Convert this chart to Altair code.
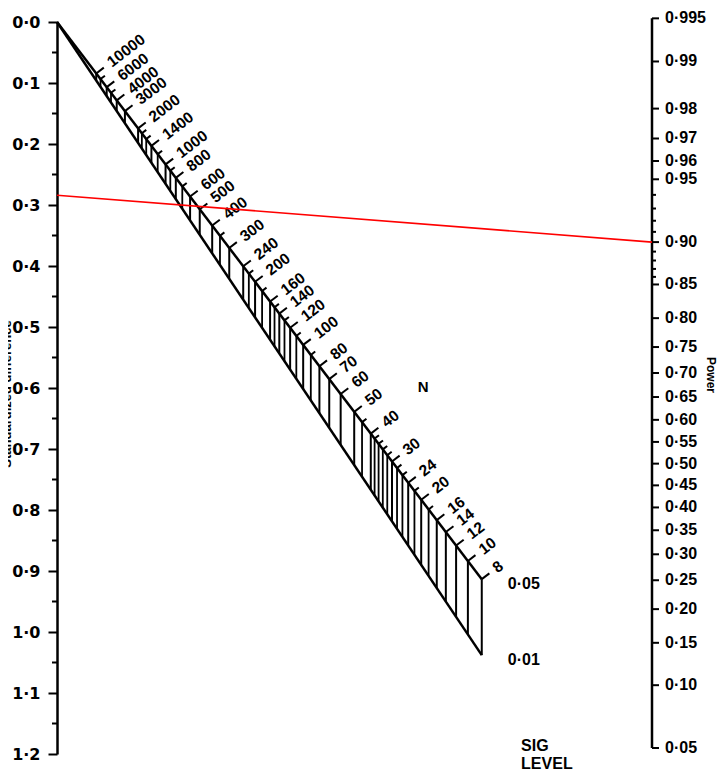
import altair as alt
import pandas as pd

# ---------------- data ----------------
d_major = [0.0, 0.1, 0.2, 0.3, 0.4, 0.5, 0.6, 0.7, 0.8, 0.9, 1.0, 1.1, 1.2]
d_minor = [0.05, 0.15, 0.25, 0.35, 0.45, 0.55, 0.65, 0.75, 0.85, 0.95, 1.05, 1.15]

power_major = [0.995, 0.99, 0.98, 0.97, 0.96, 0.95, 0.90, 0.85, 0.80, 0.75, 0.70,
               0.65, 0.60, 0.55, 0.50, 0.45, 0.40, 0.35, 0.30, 0.25, 0.20, 0.15,
               0.10, 0.05]
power_labels = ["0·995", "0·99", "0·98", "0·97", "0·96", "0·95", "0·90", "0·85",
                "0·80", "0·75", "0·70", "0·65", "0·60", "0·55", "0·50", "0·45",
                "0·40", "0·35", "0·30", "0·25", "0·20", "0·15", "0·10", "0·05"]
power_minor = [0.94, 0.93, 0.92, 0.91, 0.89, 0.88, 0.87, 0.86]

n_labeled = [10000, 6000, 4000, 3000, 2000, 1400, 1000, 800, 600, 500, 400, 300,
             240, 200, 160, 140, 120, 100, 80, 70, 60, 50, 40, 30, 24, 20, 16,
             14, 12, 10, 8]
n_minor = [8000, 5000, 1800, 1600, 1200, 900, 700, 350, 220, 180, 150, 130, 110,
           90, 45, 38, 36, 34, 32, 28, 26, 22, 18]

sig_levels = [0.05, 0.01]
sig_labels = ["0·05", "0·01"]

example_d = [0.284]
example_power = [0.90]

# ---------------- nomogram construction (power axis scale) ----------------
POW_MID = 0.724     # position of power 0.5, in standardized-difference units
POW_UNIT = 0.2834   # length of one normal deviate on the power axis

T_EXPR = f"1/(1 + {POW_UNIT}*sqrt(datum.n)/2)"
def y_alpha(a):
    return f"datum.t*({POW_MID} + {POW_UNIT}*quantileNormal(1 - {a}/2))"
YP_EXPR = f"{POW_MID} - {POW_UNIT}*quantileNormal(datum.p)"

W, H = 595, 732
xs = alt.Scale(domain=[0, 1], nice=False, zero=False)
ys = alt.Scale(domain=[0, 1.2], reverse=True, nice=False, zero=False)
yaxis = alt.Axis(values=d_major, title=None, grid=False,
                 labelExpr="replace(format(datum.value, '.1f'), '.', '·')",
                 tickSize=9, tickWidth=2, tickColor="black",
                 domainWidth=2.5, domainColor="black",
                 labelFont="DejaVu Sans", labelFontWeight="bold", labelFontSize=16,
                 labelColor="black", labelPadding=8, labelFlush=False,
                 labelOverlap=False)

def X(f):
    return alt.X(f, type="quantitative", scale=xs, axis=None)

def Y(f):
    return alt.Y(f, type="quantitative", scale=ys, axis=yaxis)

BLK = "black"

# left axis minor ticks
df_dmin = pd.DataFrame({"d": d_minor})
left_minor = alt.Chart(df_dmin).transform_calculate(x0="0").mark_rule(
    x2Offset=-5, strokeWidth=2, color=BLK
).encode(x=X("x0"), x2="x0", y=Y("d"), y2="d")

# right (power) axis
df_pw = pd.DataFrame({"p": power_major, "label": power_labels})
base_pw = alt.Chart(df_pw).transform_calculate(yp=YP_EXPR, xr="1")
pw_ticks = base_pw.mark_rule(x2Offset=7, strokeWidth=2, color=BLK).encode(
    x=X("xr"), x2="xr", y=Y("yp"), y2="yp")
pw_labels = base_pw.mark_text(align="left", baseline="middle", dx=13,
                              font="Liberation Sans", fontWeight="bold",
                              fontSize=16, color=BLK).encode(
    x=X("xr"), y=Y("yp"), text="label:N")
df_pwmin = pd.DataFrame({"p": power_minor})
pw_minor = alt.Chart(df_pwmin).transform_calculate(yp=YP_EXPR, xr="1").mark_rule(
    x2Offset=4, strokeWidth=2, color=BLK
).encode(x=X("xr"), x2="xr", y=Y("yp"), y2="yp")
df_pwline = pd.DataFrame({"p_top": [max(power_major)], "p_bot": [min(power_major)]})
pw_line = alt.Chart(df_pwline).transform_calculate(
    y1=f"{POW_MID} - {POW_UNIT}*quantileNormal(datum.p_top)",
    y2=f"{POW_MID} - {POW_UNIT}*quantileNormal(datum.p_bot)",
    xr="1",
).mark_rule(strokeWidth=2.5, color=BLK).encode(x=X("xr"), y=Y("y1"), y2="y2")

# N scale
def n_base(values):
    df = pd.DataFrame({"n": values, "label": [str(v) for v in values]})
    return alt.Chart(df).transform_calculate(
        t=T_EXPR, y05=y_alpha(sig_levels[0])
    ).transform_calculate(y01=y_alpha(sig_levels[1]))

nb = n_base(n_labeled)
nm = n_base(n_minor)
hatch = nb.mark_rule(strokeWidth=2, color=BLK).encode(x=X("t"), y=Y("y05"), y2="y01")
hatch_m = nm.mark_rule(strokeWidth=1.8, color=BLK).encode(x=X("t"), y=Y("y05"), y2="y01")
ticks = nb.mark_rule(x2Offset=7.6, y2Offset=-5.8, strokeWidth=2, color=BLK).encode(
    x=X("t"), x2="t", y=Y("y05"), y2="y05")
ticks_m = nm.mark_rule(x2Offset=4.4, y2Offset=-3.4, strokeWidth=2, color=BLK).encode(
    x=X("t"), x2="t", y=Y("y05"), y2="y05")
n_text = nb.mark_text(angle=322.7, align="left", baseline="middle", dx=16,
                      font="Liberation Sans", fontWeight="bold", fontSize=15.5,
                      color=BLK).encode(x=X("t"), y=Y("y05"), text="label:N")

# the two significance-level lines from the origin
df_end = pd.DataFrame({"n": [min(n_labeled)]})
end_base = alt.Chart(df_end).transform_calculate(
    t=T_EXPR, y05=y_alpha(sig_levels[0]), o="0"
).transform_calculate(y01=y_alpha(sig_levels[1]))
line05 = end_base.mark_rule(strokeWidth=2.5, color=BLK).encode(
    x=X("o"), y=Y("o"), x2="t", y2="y05")
line01 = end_base.mark_rule(strokeWidth=2.5, color=BLK).encode(
    x=X("o"), y=Y("o"), x2="t", y2="y01")

# significance level labels
df_sig = pd.DataFrame({"label": sig_labels, "alpha": sig_levels,
                       "n": [min(n_labeled)] * len(sig_levels)})
sig_text = alt.Chart(df_sig).transform_calculate(t=T_EXPR).transform_calculate(
    ya=f"datum.t*({POW_MID} + {POW_UNIT}*quantileNormal(1 - datum.alpha/2))"
).mark_text(align="left", baseline="middle", dx=26, dy=5,
            font="Liberation Sans", fontWeight="bold", fontSize=16, color=BLK
).encode(x=X("t"), y=Y("ya"), text="label:N")

# example (red) line
df_ex = pd.DataFrame({"d": example_d, "p": example_power})
red = alt.Chart(df_ex).transform_calculate(yp=YP_EXPR, o="0", xr="1").mark_rule(
    strokeWidth=1.6, color="#ff0000"
).encode(x=X("o"), y=Y("d"), x2="xr", y2="yp")

# text annotations
txt = pd.DataFrame({"k": [0]})
n_title = alt.Chart(txt).mark_text(font="Liberation Sans", fontWeight="bold",
                                   fontSize=15, color=BLK).encode(
    x=alt.X(datum=0.6156, type="quantitative", scale=xs, axis=None),
    y=alt.Y(datum=0.598, type="quantitative", scale=ys, axis=yaxis),
    text=alt.value("N"))
sig_title = alt.Chart(txt).mark_text(align="left", baseline="middle",
                                     font="Liberation Sans", fontWeight="bold",
                                     fontSize=16, lineHeight=18, color=BLK).encode(
    x=alt.X(datum=0.78, type="quantitative", scale=xs, axis=None),
    y=alt.Y(datum=1.187, type="quantitative", scale=ys, axis=yaxis),
    text=alt.value(["SIG", "LEVEL"]))
power_title = alt.Chart(txt).mark_text(angle=90, align="center", baseline="middle",
                                       font="Liberation Sans", fontWeight="bold",
                                       fontSize=12, color=BLK).encode(
    x=alt.value(654), y=alt.value(353), text=alt.value("Power"))
left_title = alt.Chart(txt).mark_text(angle=270, align="center", baseline="alphabetic",
                                      font="Liberation Sans", fontWeight="bold",
                                      fontSize=13, color=BLK).encode(
    x=alt.value(-46), y=alt.value(372), text=alt.value("Standardized difference"))

chart = alt.layer(
    hatch, hatch_m, line05, line01, ticks, ticks_m, n_text, sig_text,
    left_minor, pw_line, pw_ticks, pw_minor, pw_labels,
    n_title, sig_title, power_title, left_title, red,
).properties(
    width=W, height=H,
    padding={"left": 49, "top": 14, "right": 68, "bottom": 22},
    autosize=alt.AutoSizeParams(type="none"),
).configure_view(strokeWidth=0)

chart.save("out.html", embed_options={"renderer": "svg", "actions": False})
